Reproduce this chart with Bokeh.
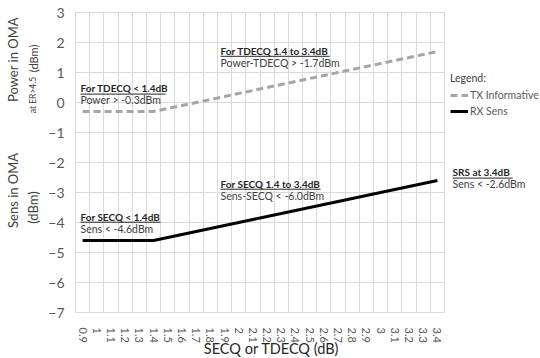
from math import pi
from bokeh.plotting import figure
from bokeh.models import Range1d, FixedTicker, Label, Legend, LegendItem, Arrow
from bokeh.embed import file_html
from bokeh.resources import INLINE

# ---- data ----
categories = ["0.9", "1", "1.1", "1.2", "1.3", "1.4", "1.5", "1.6", "1.7", "1.8",
              "1.9", "2", "2.1", "2.2", "2.3", "2.4", "2.5", "2.6", "2.7", "2.8",
              "2.9", "3", "3.1", "3.2", "3.3", "3.4"]
tx_informative = [-0.3, -0.3, -0.3, -0.3, -0.3, -0.3, -0.2, -0.1, 0.0, 0.1,
                  0.2, 0.3, 0.4, 0.5, 0.6, 0.7, 0.8, 0.9, 1.0, 1.1,
                  1.2, 1.3, 1.4, 1.5, 1.6, 1.7]
rx_sens = [-4.6, -4.6, -4.6, -4.6, -4.6, -4.6, -4.5, -4.4, -4.3, -4.2,
           -4.1, -4.0, -3.9, -3.8, -3.7, -3.6, -3.5, -3.4, -3.3, -3.2,
           -3.1, -3.0, -2.9, -2.8, -2.7, -2.6]
y_ticks = [3, 2, 1, 0, -1, -2, -3, -4, -5, -6, -7]
series_names = ["TX Informative", "RX Sens"]

x_idx = list(range(len(categories)))
x_lo, x_hi = -0.5, len(categories) - 0.5
y_lo, y_hi = min(y_ticks), max(y_ticks)

FONT = "Lato"
GRID = "#d9d9d9"

# the frame fills the whole canvas; axes are pinned at the plot-area edges
p = figure(width=540, height=358,
           min_border_left=0, min_border_right=0, min_border_top=0, min_border_bottom=0,
           x_range=Range1d(-5.785, 32.264), y_range=Range1d(-8.533, 3.4),
           output_backend="svg", toolbar_location=None)
p.outline_line_color = None
p.background_fill_color = "white"
p.border_fill_color = "white"

# axes
xa, ya = p.xaxis[0], p.yaxis[0]
xa.fixed_location = y_lo
ya.fixed_location = x_lo
xa.ticker = FixedTicker(ticks=x_idx)
xa.major_label_overrides = {i: c for i, c in zip(x_idx, categories)}
xa.major_label_orientation = "vertical"
ya.ticker = FixedTicker(ticks=y_ticks)
for ax in (xa, ya):
    ax.axis_line_color = None
    ax.major_tick_line_color = None
    ax.minor_tick_line_color = None
    ax.major_label_text_font = FONT
    ax.major_label_text_color = "#595959"
xa.major_label_text_font_size = "11px"
xa.major_label_standoff = 9
ya.major_label_text_font_size = "14px"
ya.major_label_standoff = 5

# grid (limited to the plot area)
p.xgrid.ticker = FixedTicker(ticks=[i - 0.5 for i in range(len(categories) + 1)])
p.ygrid.ticker = FixedTicker(ticks=y_ticks)
p.xgrid.bounds = (x_lo, x_hi)
p.ygrid.bounds = (y_lo, y_hi)
p.xgrid.cross_bounds = (y_lo, y_hi)
p.ygrid.cross_bounds = (x_lo, x_hi)
p.xgrid.grid_line_color = GRID
p.ygrid.grid_line_color = GRID

# lines
tx = p.line(x_idx, tx_informative, line_color="#a6a6a6", line_width=3, line_dash="7 4")
rx = p.line(x_idx, rx_sens, line_color="#000000", line_width=3)

# legend
legend = Legend(items=[LegendItem(label=series_names[0], renderers=[tx]),
                       LegendItem(label=series_names[1], renderers=[rx])],
                title="Legend:", location=(450, 240),
                border_line_color=None, background_fill_alpha=0,
                padding=0, margin=0, spacing=2,
                glyph_width=18, glyph_height=14, label_height=14,
                label_standoff=2, label_text_font=FONT, label_text_font_size="10.5px",
                label_text_color="#595959",
                title_text_font=FONT, title_text_font_size="10.5px",
                title_text_font_style="normal", title_text_color="#404040",
                title_standoff=4)
p.add_layout(legend)


def note(x, y, text, bold=False, size="10.5px", color="#404040", angle=0.0,
         align="left"):
    p.add_layout(Label(x=x, y=y, text=text, text_font=FONT, text_font_size=size,
                       text_font_style="bold" if bold else "normal",
                       text_color=color, angle=angle, text_align=align,
                       text_baseline="middle"))


def heading(x, y, text, width_units):
    note(x, y, text, bold=True, size="10px", color="#262626")
    p.add_layout(Arrow(end=None, x_start=x, x_end=x + width_units,
                       y_start=y - 0.19, y_end=y - 0.19,
                       line_color="#262626", line_width=1))


heading(-0.15, 0.47, "For TDECQ < 1.4dB", 6.0)
note(-0.15, 0.07, "Power > -0.3dBm")
heading(9.72, 1.73, "For TDECQ 1.4 to 3.4dB", 7.68)
note(9.72, 1.33, "Power-TDECQ > -1.7dBm")
heading(-0.15, -3.8, "For SECQ < 1.4dB", 5.64)
note(-0.15, -4.23, "Sens < -4.6dBm")
heading(9.72, -2.7, "For SECQ 1.4 to 3.4dB", 7.05)
note(9.72, -3.1, "Sens-SECQ < -6.0dBm")
heading(26.07, -2.33, "SRS at 3.4dB", 4.23)
note(26.07, -2.7, "Sens < -2.6dBm")

# axis titles
note(-4.87, 1.43, "Power in OMA", size="13px", color="#404040", angle=pi / 2, align="center")
note(-3.46, 0.25, "at ER>4.5", size="8.5px", color="#404040", angle=pi / 2, align="center")
note(-3.46, 1.47, "(dBm)", size="11px", color="#404040", angle=pi / 2, align="center")
note(-4.87, -2.93, "Sens in OMA", size="13px", color="#404040", angle=pi / 2, align="center")
note(-3.46, -3.5, "(dBm)", size="13px", color="#404040", angle=pi / 2, align="center")
note(13.31, -8.2, "SECQ or TDECQ (dB)", size="14.5px", color="#262626", align="center")

open("out.html", "w").write(file_html(p, INLINE))
